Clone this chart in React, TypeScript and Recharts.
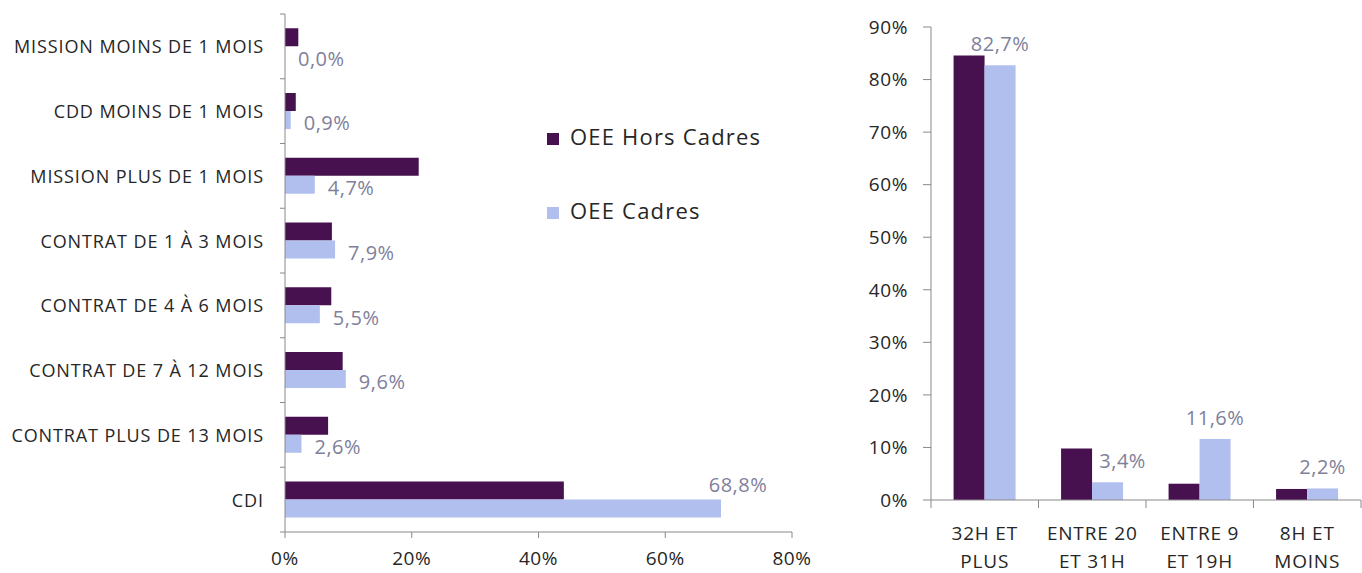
import { BarChart, Bar, XAxis, YAxis, LabelList } from "recharts"

// ------------------------------------------------------------------
// Data
// ------------------------------------------------------------------

const contractTypes = [
    "MISSION MOINS DE 1 MOIS",
    "CDD MOINS DE 1 MOIS",
    "MISSION PLUS DE 1 MOIS",
    "CONTRAT DE 1 À 3 MOIS",
    "CONTRAT DE 4 À 6 MOIS",
    "CONTRAT DE 7 À 12 MOIS",
    "CONTRAT PLUS DE 13 MOIS",
    "CDI",
]
const contractHorsCadres = [2.1, 1.7, 21.1, 7.4, 7.3, 9.1, 6.8, 44.0]
const contractCadres = [0.0, 0.9, 4.7, 7.9, 5.5, 9.6, 2.6, 68.8]
const contractTicks = [0, 20, 40, 60, 80]

const hourRanges = ["32H ET\nPLUS", "ENTRE 20\nET 31H", "ENTRE 9\nET 19H", "8H ET\nMOINS"]
const hoursHorsCadres = [84.6, 9.8, 3.1, 2.1]
const hoursCadres = [82.7, 3.4, 11.6, 2.2]
const hourTicks = [0, 10, 20, 30, 40, 50, 60, 70, 80, 90]

const seriesNames = ["OEE Hors Cadres", "OEE Cadres"]

// ------------------------------------------------------------------
// Style
// ------------------------------------------------------------------

const FONT = "'Open Sans', sans-serif"
const PURPLE = "#47114f"
const LIGHT = "#b0bfee"
const AXIS = "#898989"
const TEXT = "#262626"
const LABEL = "#80809a"

const LEFT_BAND = 518 / contractTypes.length
const RIGHT_BAND = 430 / hourRanges.length

const tickText = { fill: TEXT, fontSize: 19, fontFamily: FONT, letterSpacing: 0.6 }

const contractData = contractTypes.map((name, i) => ({
    name,
    hors: contractHorsCadres[i],
    cadres: contractCadres[i],
}))

const hourData = hourRanges.map((name, i) => ({
    name,
    hors: hoursHorsCadres[i],
    cadres: hoursCadres[i],
}))

const fmt = (v: number) => `${v.toFixed(1).replace(".", ",")}%`

// ------------------------------------------------------------------
// Custom ticks / labels
// ------------------------------------------------------------------

// category label + tick mark on the band boundary (Excel style)
function ContractTick({ x, y, payload, index }: any) {
    const half = LEFT_BAND / 2
    return (
        <g>
            <line x1={x - 5} x2={x} y1={y - half} y2={y - half} stroke={AXIS} />
            {index === contractTypes.length - 1 && (
                <line x1={x - 5} x2={x} y1={y + half} y2={y + half} stroke={AXIS} />
            )}
            <text
                x={x - 21}
                y={y}
                textAnchor="end"
                dominantBaseline="central"
                fill={TEXT}
                fontSize={18}
                fontFamily={FONT}
                letterSpacing={0.9}
            >
                {payload.value}
            </text>
        </g>
    )
}

function HourTick({ x, y, payload, index }: any) {
    const half = RIGHT_BAND / 2
    const lines = String(payload.value).split("\n")
    return (
        <g>
            <line x1={x - half} x2={x - half} y1={y} y2={y + 8} stroke={AXIS} />
            {index === hourRanges.length - 1 && (
                <line x1={x + half} x2={x + half} y1={y} y2={y + 8} stroke={AXIS} />
            )}
            {lines.map((l, i) => (
                <text
                    key={i}
                    x={x}
                    y={y + 33 + i * 28}
                    textAnchor="middle"
                    dominantBaseline="central"
                    fill={TEXT}
                    fontSize={19}
                    fontFamily={FONT}
                    letterSpacing={0.8}
                >
                    {l}
                </text>
            ))}
        </g>
    )
}

// drawn from the "hors" bar: the cadres bar sits right under it with the same height,
// so its end is found by scaling the hors bar width
function ContractLabel({ x, y, width, height, index }: any) {
    const value = contractCadres[index]
    const end = x + (width * value) / contractHorsCadres[index]
    const common = { fill: LABEL, fontSize: 20, fontFamily: FONT, letterSpacing: 0.5 }
    if (value > 50) {
        return (
            <text x={end + 17} y={y + height - 15} textAnchor="middle" dominantBaseline="central" {...common}>
                {fmt(value)}
            </text>
        )
    }
    return (
        <text x={end + 13} y={y + height * 1.5 + 3} textAnchor="start" dominantBaseline="central" {...common}>
            {fmt(value)}
        </text>
    )
}

// label above the cadres bar; nudged right when the taller hors bar next to it would collide
function HourLabel({ x, y, width, height, value, index }: any) {
    const horsTop = y + height - (height * hoursHorsCadres[index]) / value
    const ly = y - 22
    const shift = horsTop < ly + 12 && horsTop > ly - 12 ? 15 : 0
    return (
        <text x={x + width / 2 + shift} y={ly} textAnchor="middle" dominantBaseline="central"
            fill={LABEL} fontSize={20} fontFamily={FONT} letterSpacing={0.5}>
            {fmt(value)}
        </text>
    )
}

function SideLegend() {
    const colors = [PURPLE, LIGHT]
    return (
        <div style={{ position: "absolute", left: 547, top: 126, fontFamily: FONT }}>
            {seriesNames.map((n, i) => (
                <div key={n} style={{ display: "flex", alignItems: "center", height: 20, marginBottom: 54 }}>
                    <span style={{ width: 12, height: 12, background: colors[i], marginRight: 11, marginTop: 6 }} />
                    <span style={{ fontSize: 22, color: TEXT, letterSpacing: 1.2 }}>{n}</span>
                </div>
            ))}
        </div>
    )
}

// ------------------------------------------------------------------
// App
// ------------------------------------------------------------------

export default function App() {
    return (
        <div style={{ position: "fixed", left: 0, top: 0, width: 1362, height: 573, background: "#fff" }}>
            <div style={{ position: "absolute", left: 0, top: 0 }}>
                <BarChart
                    width={830}
                    height={573}
                    data={contractData}
                    layout="vertical"
                    margin={{ top: 14, right: 38, bottom: 0, left: 0 }}
                    barCategoryGap="22%"
                    barGap={0}
                >
                    <XAxis
                        type="number"
                        domain={[0, 80]}
                        ticks={contractTicks}
                        tickFormatter={(v) => `${v}%`}
                        height={41}
                        tickSize={6}
                        tickMargin={14}
                        stroke={AXIS}
                        tick={tickText}
                    />
                    <YAxis
                        type="category"
                        dataKey="name"
                        width={285}
                        interval={0}
                        tickSize={0}
                        tickMargin={0}
                        tickLine={false}
                        stroke={AXIS}
                        tick={<ContractTick />}
                    />
                    <Bar dataKey="hors" name={seriesNames[0]} fill={PURPLE} isAnimationActive={false}>
                        <LabelList dataKey="hors" content={<ContractLabel />} />
                    </Bar>
                    <Bar dataKey="cadres" name={seriesNames[1]} fill={LIGHT} isAnimationActive={false} />
                </BarChart>
            </div>
            <SideLegend />
            <div style={{ position: "absolute", left: 860, top: 0 }}>
                <BarChart
                    width={502}
                    height={573}
                    data={hourData}
                    margin={{ top: 27, right: 1, bottom: 0, left: 0 }}
                    barCategoryGap="21%"
                    barGap={0}
                >
                    <XAxis
                        dataKey="name"
                        height={73}
                        interval={0}
                        tickSize={0}
                        tickMargin={0}
                        tickLine={false}
                        stroke={AXIS}
                        tick={<HourTick />}
                    />
                    <YAxis
                        type="number"
                        domain={[0, 90]}
                        ticks={hourTicks}
                        tickFormatter={(v) => `${v}%`}
                        width={71}
                        tickSize={8}
                        tickMargin={15}
                        stroke={AXIS}
                        tick={tickText}
                    />
                    <Bar dataKey="hors" name={seriesNames[0]} fill={PURPLE} isAnimationActive={false} />
                    <Bar dataKey="cadres" name={seriesNames[1]} fill={LIGHT} isAnimationActive={false}>
                        <LabelList dataKey="cadres" content={<HourLabel />} />
                    </Bar>
                </BarChart>
            </div>
        </div>
    )
}
